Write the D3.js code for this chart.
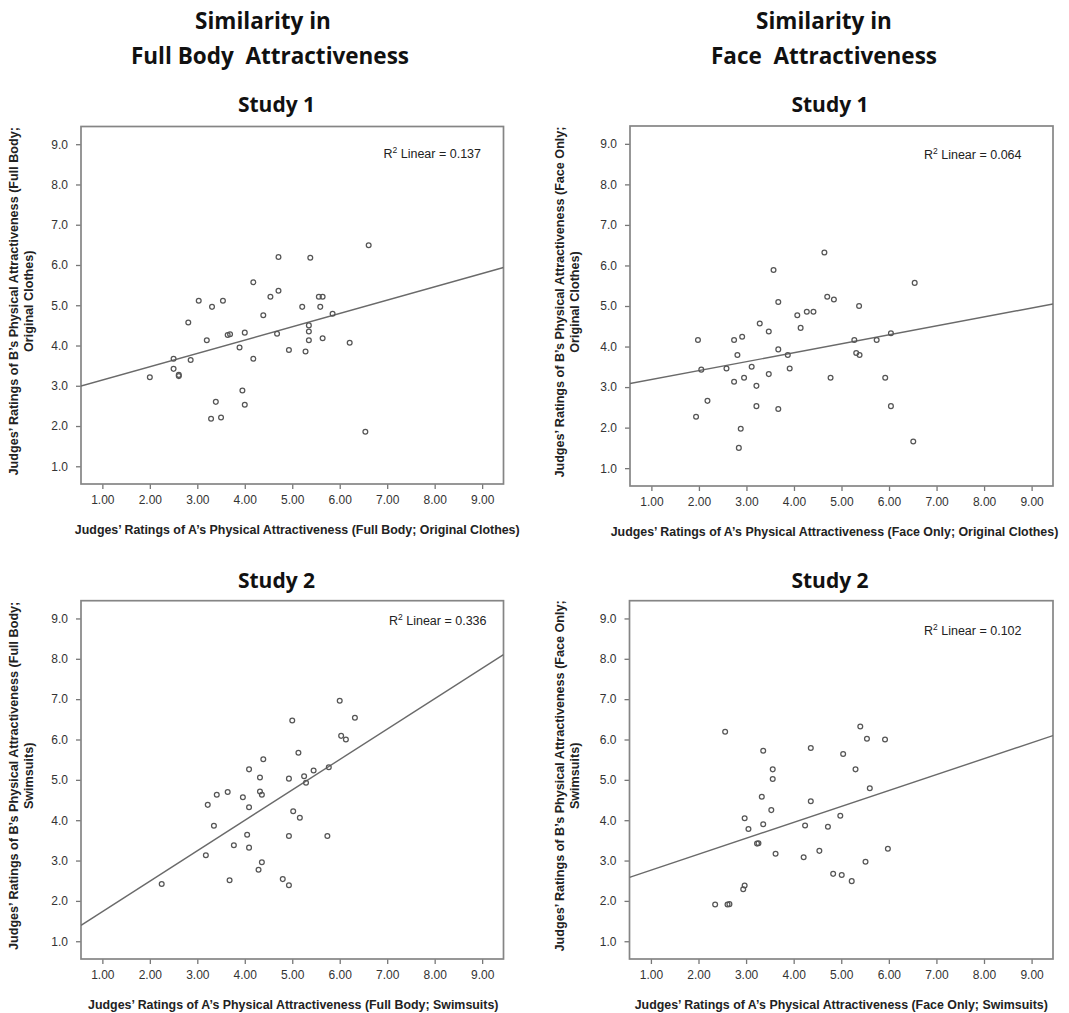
<!DOCTYPE html>
<html>
<head>
<meta charset="utf-8">
<script src="https://cdn.jsdelivr.net/npm/d3@7"></script>
<style>
  html, body { margin: 0; padding: 0; background: #fff; }
  svg { display: block; }
</style>
</head>
<body>
<svg id="chart" width="1069" height="1013"></svg>
<script>
// ---------------- DATA ----------------
const xTicks = [1, 2, 3, 4, 5, 6, 7, 8, 9];
const yTicks = [1, 2, 3, 4, 5, 6, 7, 8, 9];
const xTickFormat = ".2f";
const yTickFormat = ".1f";

const columnTitles = [["Similarity in", "Full Body  Attractiveness"], ["Similarity in", "Face  Attractiveness"]];
const studyTitles = ["Study 1", "Study 1", "Study 2", "Study 2"];

const xAxisTitles = [
  "Judges’ Ratings of A’s Physical Attractiveness (Full Body; Original Clothes)",
  "Judges’ Ratings of A’s Physical Attractiveness (Face Only; Original Clothes)",
  "Judges’ Ratings of A’s Physical Attractiveness (Full Body; Swimsuits)",
  "Judges’ Ratings of A’s Physical Attractiveness (Face Only; Swimsuits)"
];
const yAxisTitles = [
  ["Judges’ Ratings of B’s Physical Attractiveness (Full Body;", "Original Clothes)"],
  ["Judges’ Ratings of B’s Physical Attractiveness (Face Only;", "Original Clothes)"],
  ["Judges’ Ratings of B’s Physical Attractiveness (Full Body;", "Swimsuits)"],
  ["Judges’ Ratings of B’s Physical Attractiveness (Face Only;", "Swimsuits)"]
];

const r2Values = ["0.137", "0.064", "0.336", "0.102"];
const fitIntercepts = [2.81, 2.965, 0.98, 2.365];
const fitSlopes = [0.331, 0.2207, 0.754, 0.395];

// Study 1, full body (original clothes)
const fullBodyS1_A = [2.00,2.50,2.50,2.61,2.61,2.86,2.81,3.03,3.20,3.31,3.54,3.39,3.29,3.50,3.64,3.69,4.00,3.89,3.95,4.00,4.18,4.18,4.39,4.54,4.71,4.71,4.68,4.93,5.21,5.28,5.38,5.35,5.35,5.35,5.56,5.64,5.59,5.64,5.85,6.21,6.61,6.54];
const fullBodyS1_B = [3.21,3.67,3.42,3.27,3.24,3.64,4.57,5.11,4.13,4.96,5.11,2.60,2.18,2.21,4.26,4.28,4.32,3.95,2.88,2.53,5.57,3.67,4.75,5.21,6.20,5.36,4.29,3.89,4.96,3.85,6.18,4.50,4.35,4.13,5.21,5.21,4.96,4.18,4.79,4.07,6.49,1.86];
// Study 1, face only (original clothes)
const faceS1_A = [1.94,1.98,2.05,2.18,2.58,2.74,2.81,2.74,2.91,2.95,2.88,2.84,3.11,3.21,3.21,3.28,3.47,3.47,3.57,3.67,3.67,3.67,3.87,3.91,4.07,4.14,4.27,4.41,4.64,4.70,4.84,4.77,5.27,5.31,5.38,5.37,5.74,5.92,6.04,6.04,6.54,6.51];
const faceS1_B = [2.27,4.16,3.43,2.66,3.46,4.16,3.79,3.13,4.24,3.23,1.97,1.50,3.50,3.03,2.53,4.57,4.37,3.32,5.89,5.10,3.93,2.46,3.79,3.46,4.77,4.46,4.86,4.86,6.32,5.23,5.16,3.23,4.16,3.84,3.79,5.00,4.16,3.23,4.33,2.53,5.57,1.66];
// Study 2, full body (swimsuits)
const fullBodyS2_A = [2.25,3.18,3.22,3.35,3.41,3.64,3.68,3.77,3.96,4.05,4.09,4.09,4.09,4.32,4.32,4.36,4.39,4.36,4.29,4.80,4.93,4.93,4.93,5.00,5.02,5.13,5.16,5.25,5.29,5.45,5.77,5.74,6.00,6.03,6.13,6.32];
const fullBodyS2_B = [2.42,3.13,4.38,3.86,4.63,4.70,2.51,3.38,4.57,3.64,5.26,4.32,3.32,5.06,4.71,4.63,5.51,2.96,2.77,2.54,2.39,5.03,3.61,6.47,4.22,5.67,4.06,5.09,4.93,5.23,5.31,3.61,6.96,6.09,6.00,6.54];
// Study 2, face only (swimsuits)
const faceS2_A = [2.56,2.35,2.61,2.65,2.97,2.94,2.97,3.05,3.23,3.26,3.33,3.36,3.36,3.53,3.56,3.56,3.62,4.24,4.21,4.36,4.36,4.54,4.72,4.83,5.01,4.98,5.04,5.22,5.30,5.40,5.54,5.51,5.60,5.92,5.98];
const faceS2_B = [6.19,1.91,1.91,1.92,2.38,2.29,4.05,3.78,3.42,3.43,4.58,5.72,3.90,4.25,5.26,5.02,3.17,3.87,3.08,5.79,4.47,3.24,3.84,2.67,2.64,4.11,5.64,2.49,5.26,6.32,6.02,2.97,4.79,6.00,3.29];

const seriesA = [fullBodyS1_A, faceS1_A, fullBodyS2_A, faceS2_A];
const seriesB = [fullBodyS1_B, faceS1_B, fullBodyS2_B, faceS2_B];

// ---------------- LAYOUT ----------------
const xDomain = [0.55, 9.45];
const yDomain = [0.56, 9.44];
const panels = [
  { left: 81,    top: 126.5, width: 422.5, height: 357.5, r2dx: -22.5, r2dy: 31,  yl1: 17.5,  yl2: 33,  xtDx: 5 },
  { left: 630,   top: 126,   width: 423,   height: 360,   r2dx: -31.5, r2dy: 33,  yl1: 563.5, yl2: 579, xtDx: -7 },
  { left: 81,    top: 600.7, width: 422.5, height: 358.3, r2dx: -17,   r2dy: 24.5,yl1: 17.5,  yl2: 33,  xtDx: 1 },
  { left: 629.5, top: 600.7, width: 423.5, height: 358.3, r2dx: -31.5, r2dy: 34,  yl1: 563.5, yl2: 579, xtDx: 0 }
];
const colTitleX = [[263, 270], [824, 824]];
const colTitleY = [29.3, 64];
const studyTitlePos = [[276.5, 111.5], [830, 111.5], [276.5, 588], [830, 588]];

const sansFont = "'Liberation Sans', Arial, Helvetica, sans-serif";
const titleFont = "'Open Sans', 'Noto Sans', sans-serif";

const svg = d3.select("#chart");

// Column titles
columnTitles.forEach((lines, c) => {
  lines.forEach((t, i) => {
    svg.append("text")
      .attr("x", colTitleX[c][i]).attr("y", colTitleY[i])
      .attr("text-anchor", "middle")
      .attr("font-family", titleFont).attr("font-weight", 700)
      .attr("font-size", 22.5).attr("fill", "#111")
      .style("white-space", "pre")
      .text(t);
  });
});

// Study titles
studyTitles.forEach((t, i) => {
  svg.append("text")
    .attr("x", studyTitlePos[i][0]).attr("y", studyTitlePos[i][1])
    .attr("text-anchor", "middle")
    .attr("font-family", titleFont).attr("font-weight", 700)
    .attr("font-size", 21).attr("fill", "#111")
    .text(t);
});

panels.forEach((p, i) => {
  const x = d3.scaleLinear().domain(xDomain).range([p.left, p.left + p.width]);
  const y = d3.scaleLinear().domain(yDomain).range([p.top + p.height, p.top]);
  const g = svg.append("g");

  const clipId = "clip" + i;
  svg.append("clipPath").attr("id", clipId)
    .append("rect").attr("x", p.left).attr("y", p.top).attr("width", p.width).attr("height", p.height);

  // X axis
  const xAxis = d3.axisBottom(x).tickValues(xTicks).tickFormat(d3.format(xTickFormat)).tickSize(5).tickPadding(6);
  const gx = g.append("g").attr("transform", `translate(0,${p.top + p.height})`).call(xAxis);
  gx.select(".domain").remove();
  gx.selectAll(".tick line").attr("stroke", "#777").attr("stroke-width", 1.3);
  gx.selectAll(".tick text").attr("font-family", sansFont).attr("font-size", 12).attr("fill", "#333");

  // Y axis
  const yAxis = d3.axisLeft(y).tickValues(yTicks).tickFormat(d3.format(yTickFormat)).tickSize(5).tickPadding(8);
  const gy = g.append("g").attr("transform", `translate(${p.left},0)`).call(yAxis);
  gy.select(".domain").remove();
  gy.selectAll(".tick line").attr("stroke", "#777").attr("stroke-width", 1.3);
  gy.selectAll(".tick text").attr("font-family", sansFont).attr("font-size", 12).attr("fill", "#333");

  // Frame
  g.append("rect")
    .attr("x", p.left).attr("y", p.top).attr("width", p.width).attr("height", p.height)
    .attr("fill", "none").attr("stroke", "#858585").attr("stroke-width", 1.7);

  // Fit line
  const b0 = fitIntercepts[i], b1 = fitSlopes[i];
  g.append("line")
    .attr("clip-path", `url(#${clipId})`)
    .attr("x1", x(xDomain[0])).attr("y1", y(b0 + b1 * xDomain[0]))
    .attr("x2", x(xDomain[1])).attr("y2", y(b0 + b1 * xDomain[1]))
    .attr("stroke", "#6a6a6a").attr("stroke-width", 1.4);

  // Points
  const pts = seriesA[i].map((a, k) => ({ a, b: seriesB[i][k] }));
  g.append("g").selectAll("circle").data(pts).join("circle")
    .attr("cx", d => x(d.a)).attr("cy", d => y(d.b)).attr("r", 2.4)
    .attr("fill", "none").attr("stroke", "#555").attr("stroke-width", 1.25);

  // R² label
  const r2 = g.append("text")
    .attr("x", p.left + p.width + p.r2dx).attr("y", p.top + p.r2dy)
    .attr("text-anchor", "end")
    .attr("font-family", sansFont).attr("font-size", 12.5).attr("fill", "#222");
  r2.append("tspan").text("R");
  r2.append("tspan").attr("dy", -5).attr("font-size", 8.5).text("2");
  r2.append("tspan").attr("dy", 5).text(" Linear = " + r2Values[i]);

  // X axis title
  g.append("text")
    .attr("x", p.left + p.width / 2 + p.xtDx).attr("y", p.top + p.height + 50)
    .attr("text-anchor", "middle")
    .attr("font-family", sansFont).attr("font-weight", 700).attr("font-size", 12.4).attr("fill", "#222")
    .text(xAxisTitles[i]);

  // Y axis title (two lines)
  const cy = p.top + p.height / 2 - 4;
  [p.yl1, p.yl2].forEach((bx, li) => {
    g.append("text")
      .attr("transform", `translate(${bx},${cy}) rotate(-90)`)
      .attr("text-anchor", "middle")
      .attr("font-family", sansFont).attr("font-weight", 700).attr("font-size", 12.6).attr("fill", "#222")
      .text(yAxisTitles[i][li]);
  });
});
</script>
</body>
</html>
